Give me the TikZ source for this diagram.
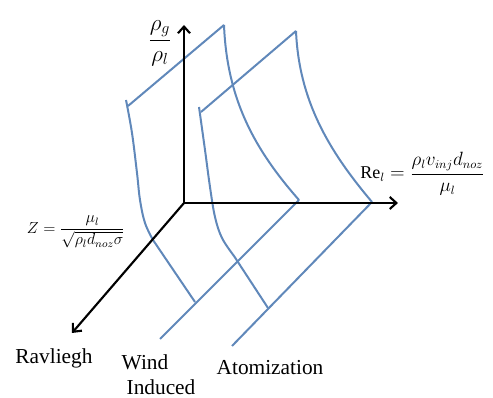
\documentclass[tikz,border=0pt]{standalone}
\usepackage{fontspec}
\setmainfont{Liberation Serif}
\usetikzlibrary{arrows.meta}
\definecolor{curveblue}{RGB}{96,136,186}
\tikzset{
  axis/.style={line width=1.6pt, black, -{Straight Barb[length=5pt,width=9pt,line width=1.6pt]}},
  regime/.style={line width=1.5pt, curveblue, line join=round},
  lbl/.style={font=\fontsize{16}{18}\selectfont, inner sep=0pt},
}
\begin{document}
\begin{tikzpicture}[x=0.75pt,y=-0.75pt]
\useasboundingbox (0,0) rectangle (493,398);
% axes
\coordinate (O) at (184,203);
\coordinate (Ytip) at (184,25);
\coordinate (Xtip) at (398,203);
\coordinate (Ztip) at (72,333);
% surface 1 (Rayleigh / wind induced)
\coordinate (a1) at (128,106);
\coordinate (a2) at (224,25);
\coordinate (a3) at (299,200);
\coordinate (a4) at (160,339);
\coordinate (a5) at (126,100);
\coordinate (a6) at (153,240);
\coordinate (a7) at (195,302);
% surface 2 (wind induced / atomization)
\coordinate (b1) at (201,112);
\coordinate (b2) at (296,31);
\coordinate (b3) at (372,202);
\coordinate (b4) at (232,346);
\coordinate (b5) at (199,107);
\coordinate (b6) at (234,256);
\coordinate (b7) at (268,308);

\draw[regime] (a1) -- (a2);
\draw[regime] (a2) .. controls (227,100) and (255,150) .. (a3);
\draw[regime] (a3) -- (a4);
\draw[regime] plot[smooth, tension=0.6] coordinates {(a5) (132,133) (137,173) (140,200) (145,223) (a6)} -- (a7);

\draw[regime] (b1) -- (b2);
\draw[regime] (b2) .. controls (299,100) and (328,150) .. (b3);
\draw[regime] (b3) -- (b4);
\draw[regime] plot[smooth, tension=0.6] coordinates {(b5) (205,150) (210,187) (215,217) (222,238) (b6)} -- (b7);

\draw[axis] (O) -- (Ytip);
\draw[axis] (O) -- (Xtip);
\draw[axis] (O) -- (Ztip);

% labels
\node[inner sep=0pt, font=\fontsize{18}{20}\selectfont] (ylab) at (160,43) {$\displaystyle\frac{\rho_g}{\rho_l}$};
\node[inner sep=0pt, font=\fontsize{13.5}{15}\selectfont, anchor=west] (xlab) at (360,174) {$\mathrm{Re}_l=\displaystyle\frac{\rho_l v_{inj} d_{noz}}{\mu_l}$};
\node[inner sep=0pt, font=\fontsize{12}{14}\selectfont] (zlab) at (76,232) {$Z=\displaystyle\frac{\mu_l}{\sqrt{\rho_l d_{noz}\sigma}}$};
\node[lbl] (ray) at (54,358) {Ravliegh};
\node[lbl] (wind) at (145,362) {Wind};
\node[lbl] (ind) at (161,387) {Induced};
\node[lbl] (atom) at (270,368) {Atomization};
\end{tikzpicture}
\end{document}
